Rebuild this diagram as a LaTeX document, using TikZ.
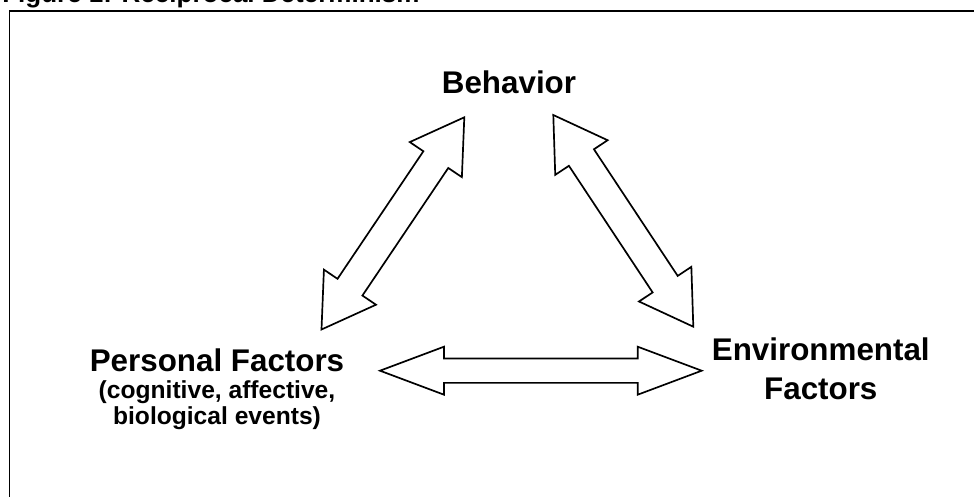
\documentclass[tikz,border=0pt]{standalone}
\usepackage{fontspec}
\setmainfont{Liberation Sans}
\usetikzlibrary{calc}

\tikzset{
  bigtext/.style={font=\fontsize{22.3}{27.2}\selectfont\bfseries, inner sep=0pt, align=center},
  smalltext/.style={font=\fontsize{17.5}{18.5}\selectfont\bfseries, inner sep=0pt, align=center},
  arrowline/.style={draw=black, line width=1.2pt, line join=miter, fill=white}
}

% block arrow with a head at both ends: from, to, head length, head half width, shaft half width
\newcommand{\fatarrow}[5]{%
  \coordinate (fa1) at ($(#1)!#3!(#2)$);
  \coordinate (fa2) at ($(#2)!#3!(#1)$);
  \draw[arrowline] (#1) -- ($(fa1)!#4!90:(#2)$) -- ($(fa1)!#5!90:(#2)$)
    -- ($(fa2)!#5!-90:(#1)$) -- ($(fa2)!#4!-90:(#1)$) -- (#2)
    -- ($(fa2)!#4!90:(#1)$) -- ($(fa2)!#5!90:(#1)$)
    -- ($(fa1)!#5!-90:(#2)$) -- ($(fa1)!#4!-90:(#2)$) -- cycle;
}

\begin{document}
\begin{tikzpicture}
	\useasboundingbox (0,0) rectangle (24.35,12.4);
	\node[anchor=base west, inner sep=0pt, font=\fontsize{18.5}{22}\selectfont\bfseries] (title) at (.05,12.33) {Figure 1: Reciprocal Determinism};
	\draw[line width=1.4pt] (.2375,-1) rectangle (25,12.125);
	% the three factors (base = last line)
	\node[bigtext, anchor=base] (behavior) at (12.725,10.07) {Behavior};
	\node[bigtext, anchor=base] (personal) at (5.425,3.1075) {Personal Factors};
	\node[smalltext, anchor=base] (personalsub) at (5.425,1.7925) {(cognitive, affective,\\biological events)};
	\node[bigtext, anchor=base] (environment) at (20.52,2.425) {Environmental\\Factors};
	% arrow ends
	\coordinate (bp1) at (11.6075,9.4675);
	\coordinate (bp2) at (8.0375,4.1625);
	\coordinate (be1) at (13.8325,9.525);
	\coordinate (be2) at (17.3325,4.2325);
	\coordinate (pe1) at (9.5,3.1325);
	\coordinate (pe2) at (17.5425,3.1325);
	\fatarrow{bp1}{bp2}{1.275cm}{.785cm}{.375cm}
	\fatarrow{be1}{be2}{1.275cm}{.785cm}{.375cm}
	\fatarrow{pe1}{pe2}{1.6cm}{.6cm}{.305cm}
\end{tikzpicture}
\end{document}
